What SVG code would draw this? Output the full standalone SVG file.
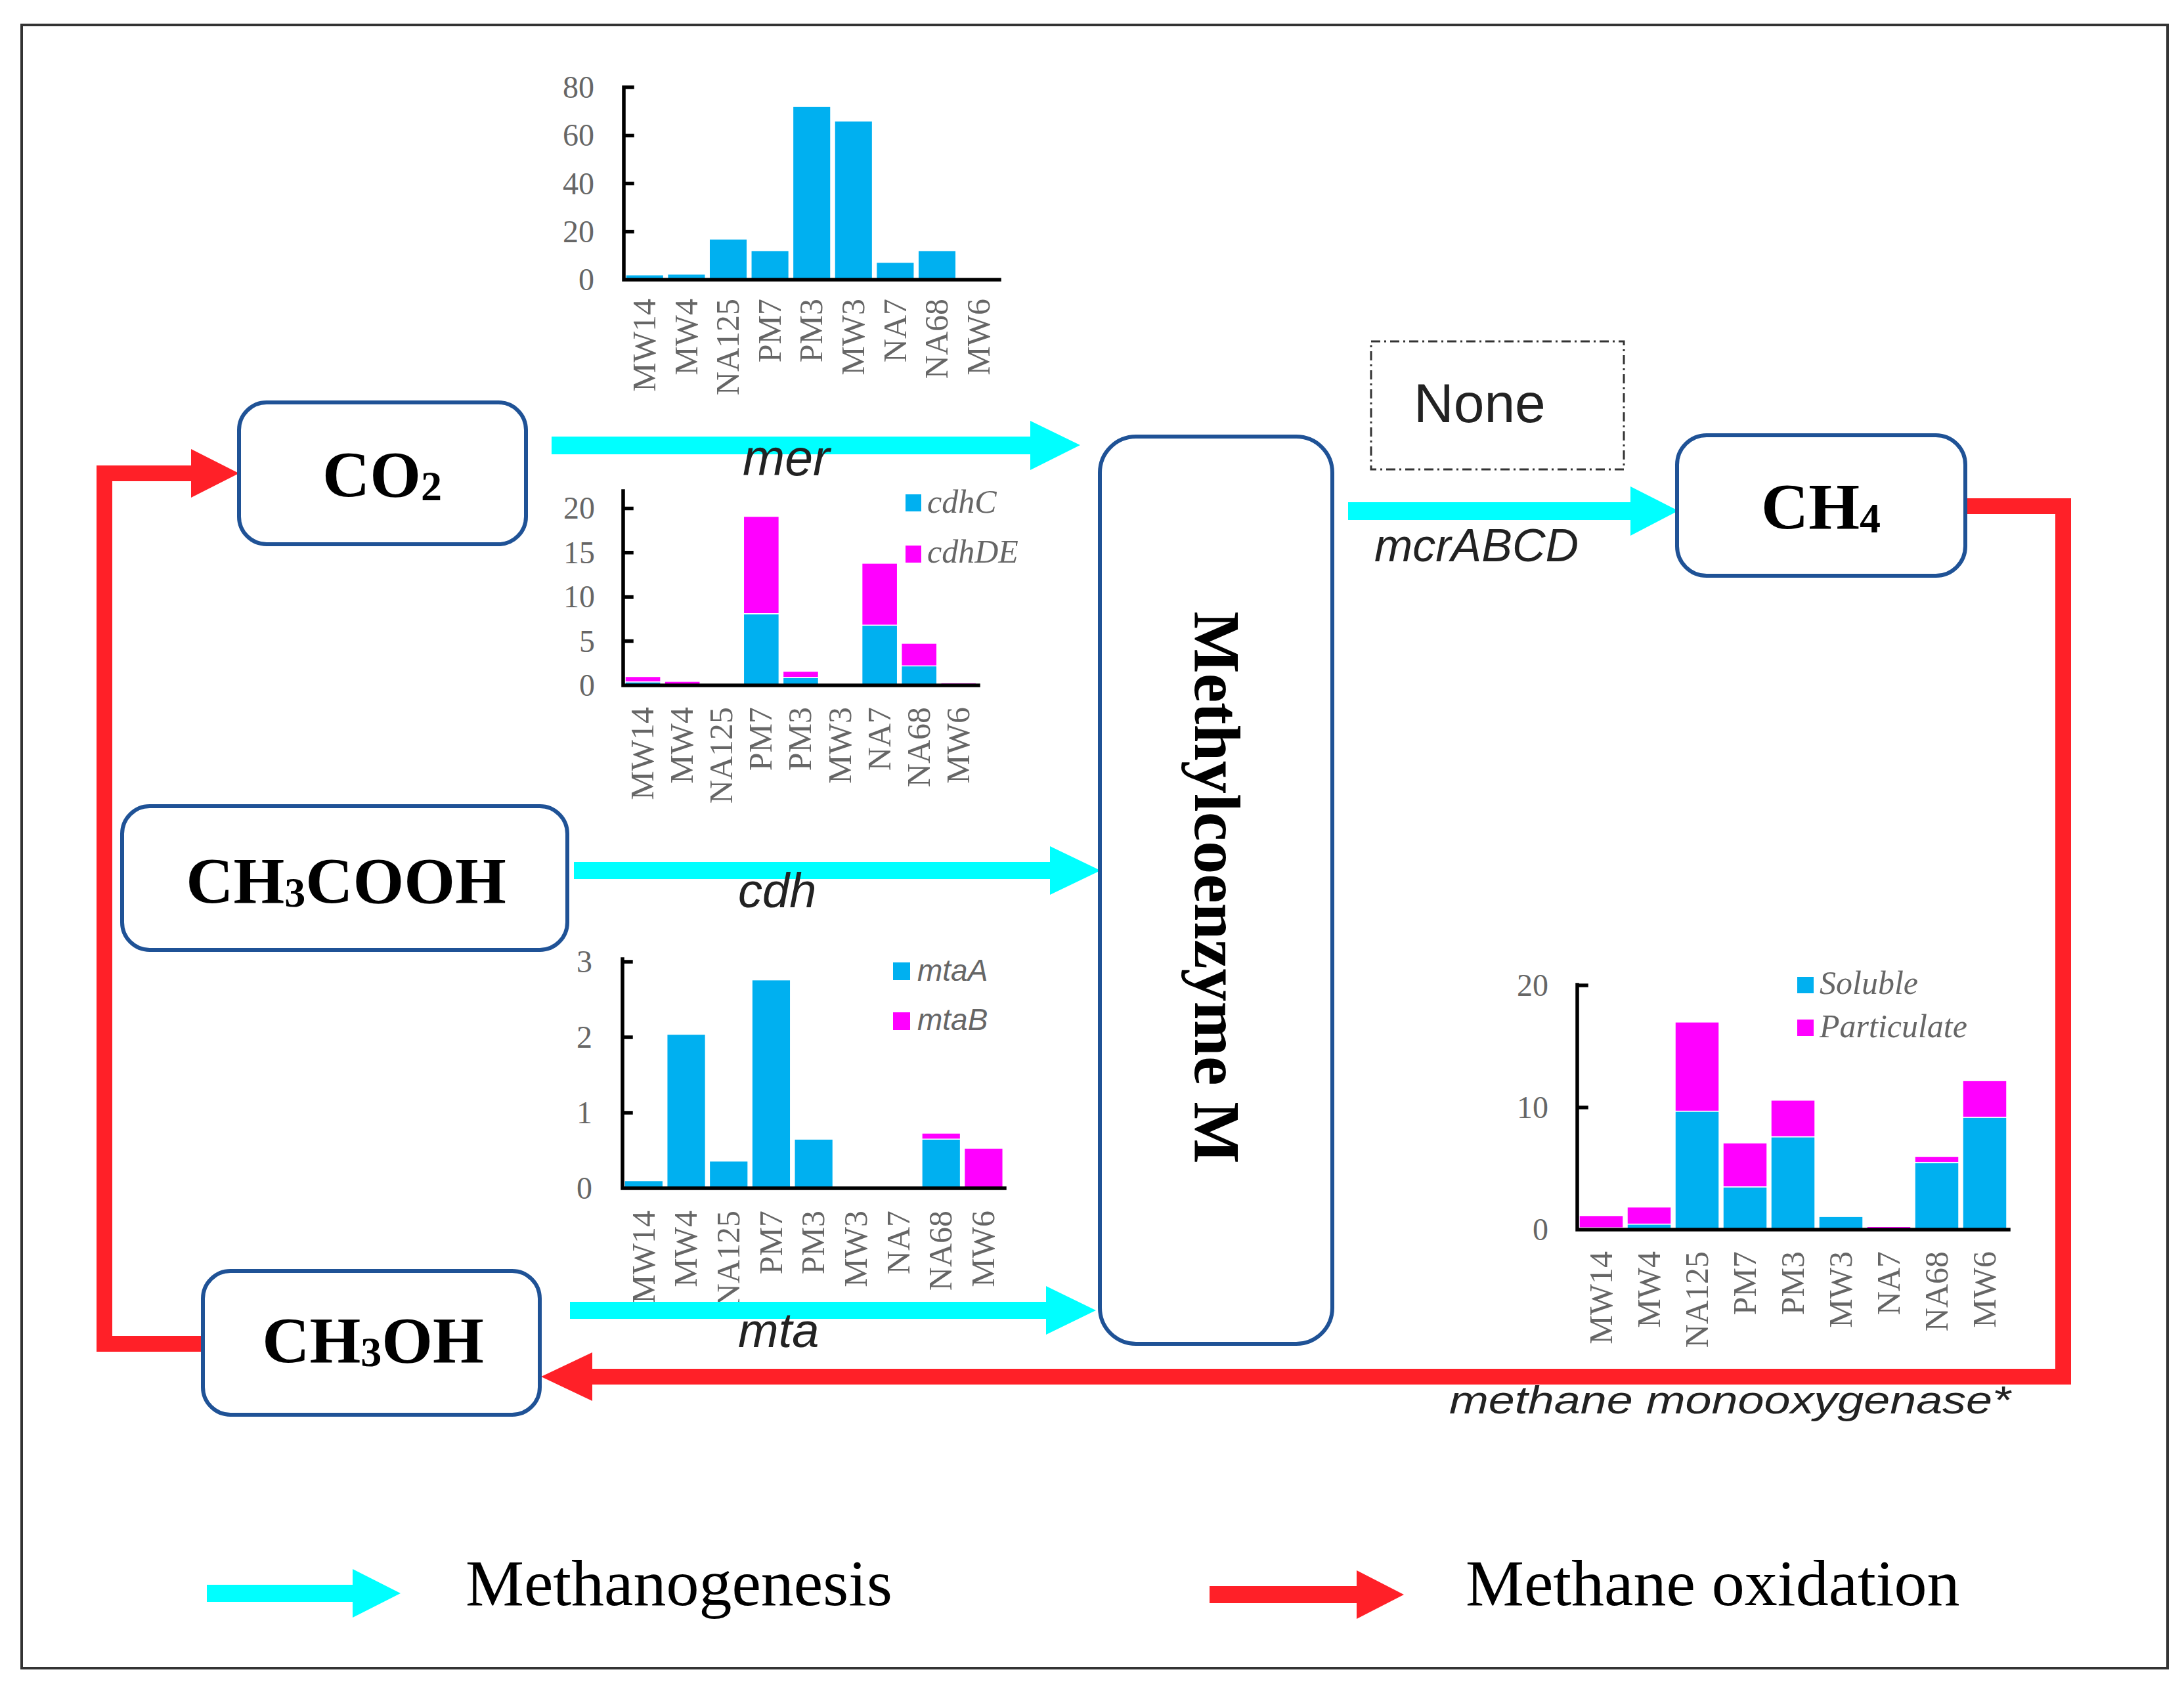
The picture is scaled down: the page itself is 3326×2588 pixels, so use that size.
<svg xmlns="http://www.w3.org/2000/svg" width="3326" height="2588" viewBox="0 0 3326 2588">
<style>
.box{fill:#fff;stroke:#1F5296;stroke-width:6}
.node{font-family:"Liberation Serif","Times New Roman",serif;font-weight:bold;font-size:100px;fill:#000}
.sub{font-size:64px}
.ax{stroke:#000;stroke-width:5.5;fill:none;stroke-linecap:square}
.tk{font-family:"Liberation Serif","Times New Roman",serif;font-size:48px;fill:#666;text-anchor:end}
.xl{font-family:"Liberation Serif","Times New Roman",serif;font-size:50px;fill:#666;text-anchor:end}
.lgs{font-family:"Liberation Serif","Times New Roman",serif;font-style:italic;font-size:50px;fill:#666}
.lga{font-family:"Liberation Sans",Arial,sans-serif;font-style:italic;font-size:46px;fill:#666}
.c{fill:#00B0F0;stroke:#fff;stroke-width:1.5}
.m{fill:#FF00FF;stroke:#fff;stroke-width:1.5}
.cy{fill:#00FFFF}
.rd{fill:#FF2028}
.rl{fill:none;stroke:#FF2028;stroke-width:24;stroke-linejoin:miter}
.lab{font-family:"Liberation Sans",Arial,sans-serif;font-style:italic;fill:#222}
.leg{font-family:"Liberation Serif","Times New Roman",serif;font-size:100px;fill:#000}
</style>
<rect x="0" y="0" width="3326" height="2588" fill="#fff"/>
<rect x="33" y="38" width="3268" height="2503" fill="none" stroke="#333" stroke-width="4"/>

<!-- Chart mer -->
<g id="chart-mer">
<rect class="c" x="953" y="418.7" width="57.6" height="7.3"/>
<rect class="c" x="1016.6" y="417.6" width="57.6" height="8.4"/>
<rect class="c" x="1080.2" y="364.1" width="57.6" height="61.9"/>
<rect class="c" x="1143.8" y="381.7" width="57.6" height="44.3"/>
<rect class="c" x="1207.4" y="162.1" width="57.6" height="263.9"/>
<rect class="c" x="1271" y="184.4" width="57.6" height="241.6"/>
<rect class="c" x="1334.6" y="399.6" width="57.6" height="26.4"/>
<rect class="c" x="1398.2" y="381.7" width="57.6" height="44.3"/>
<path class="ax" d="M950 133V426H1522M950 133H963M950 206.4H963M950 279.6H963M950 352.8H963"/>
<text class="tk" x="905" y="149">80</text>
<text class="tk" x="905" y="222">60</text>
<text class="tk" x="905" y="296">40</text>
<text class="tk" x="905" y="369">20</text>
<text class="tk" x="905" y="442">0</text>
<text class="xl" transform="translate(998,455) rotate(-90)">MW14</text>
<text class="xl" transform="translate(1062,455) rotate(-90)">MW4</text>
<text class="xl" transform="translate(1125,455) rotate(-90)">NA125</text>
<text class="xl" transform="translate(1189,455) rotate(-90)">PM7</text>
<text class="xl" transform="translate(1252,455) rotate(-90)">PM3</text>
<text class="xl" transform="translate(1316,455) rotate(-90)">MW3</text>
<text class="xl" transform="translate(1380,455) rotate(-90)">NA7</text>
<text class="xl" transform="translate(1443,455) rotate(-90)">NA68</text>
<text class="xl" transform="translate(1507,455) rotate(-90)">MW6</text>
</g>

<!-- Chart cdh -->
<g id="chart-cdh">
<rect class="c" x="952" y="1038.6" width="54.1" height="5.4"/>
<rect class="m" x="952" y="1030.5" width="54.1" height="8.1"/>
<rect class="m" x="1012.1" y="1037.9" width="54.1" height="6.1"/>
<rect class="c" x="1132.3" y="934.8" width="54.1" height="109.2"/>
<rect class="m" x="1132.3" y="786.5" width="54.1" height="148.3"/>
<rect class="c" x="1192.4" y="1031.9" width="54.1" height="12.1"/>
<rect class="m" x="1192.4" y="1022.5" width="54.1" height="9.4"/>
<rect class="c" x="1312.6" y="952.3" width="54.1" height="91.7"/>
<rect class="m" x="1312.6" y="857.9" width="54.1" height="94.4"/>
<rect class="c" x="1372.7" y="1014.3" width="54.1" height="29.7"/>
<rect class="m" x="1372.7" y="979.9" width="54.1" height="34.4"/>
<rect class="m" x="1432.8" y="1040" width="54.1" height="4"/>
<path class="ax" d="M949 748V1044H1490M949 774.4H962M949 841.8H962M949 909.2H962M949 976.6H962"/>
<text class="tk" x="906" y="790">20</text>
<text class="tk" x="906" y="858">15</text>
<text class="tk" x="906" y="925">10</text>
<text class="tk" x="906" y="993">5</text>
<text class="tk" x="906" y="1060">0</text>
<rect x="1379" y="753" width="24" height="26" fill="#00B0F0"/>
<text class="lgs" x="1412" y="781">cdhC</text>
<rect x="1379" y="831" width="24" height="26" fill="#FF00FF"/>
<text class="lgs" x="1412" y="857">cdhDE</text>
<text class="xl" transform="translate(995,1077) rotate(-90)">MW14</text>
<text class="xl" transform="translate(1055,1077) rotate(-90)">MW4</text>
<text class="xl" transform="translate(1115,1077) rotate(-90)">NA125</text>
<text class="xl" transform="translate(1175,1077) rotate(-90)">PM7</text>
<text class="xl" transform="translate(1235,1077) rotate(-90)">PM3</text>
<text class="xl" transform="translate(1296,1077) rotate(-90)">MW3</text>
<text class="xl" transform="translate(1356,1077) rotate(-90)">NA7</text>
<text class="xl" transform="translate(1416,1077) rotate(-90)">NA68</text>
<text class="xl" transform="translate(1476,1077) rotate(-90)">MW6</text>
</g>

<!-- Chart mta -->
<g id="chart-mta">
<rect class="c" x="951" y="1798.5" width="58.7" height="11.5"/>
<rect class="c" x="1015.7" y="1575.4" width="58.7" height="234.6"/>
<rect class="c" x="1080.4" y="1768.6" width="58.7" height="41.4"/>
<rect class="c" x="1145.1" y="1492.6" width="58.7" height="317.4"/>
<rect class="c" x="1209.8" y="1735.2" width="58.7" height="74.8"/>
<rect class="m" x="1339.2" y="1807.7" width="58.7" height="2.3"/>
<rect class="c" x="1403.9" y="1735.2" width="58.7" height="74.8"/>
<rect class="m" x="1403.9" y="1726" width="58.7" height="9.2"/>
<rect class="m" x="1468.6" y="1749" width="58.7" height="61"/>
<path class="ax" d="M948 1461V1810H1530M948 1465H961M948 1580H961M948 1695H961"/>
<text class="tk" x="902" y="1481">3</text>
<text class="tk" x="902" y="1596">2</text>
<text class="tk" x="902" y="1711">1</text>
<text class="tk" x="902" y="1826">0</text>
<rect x="1360" y="1466" width="26" height="27" fill="#00B0F0"/>
<text class="lga" x="1397" y="1494">mtaA</text>
<rect x="1360" y="1542" width="26" height="27" fill="#FF00FF"/>
<text class="lga" x="1397" y="1569">mtaB</text>
<text class="xl" transform="translate(997,1844) rotate(-90)">MW14</text>
<text class="xl" transform="translate(1061,1844) rotate(-90)">MW4</text>
<text class="xl" transform="translate(1126,1844) rotate(-90)">NA125</text>
<text class="xl" transform="translate(1191,1844) rotate(-90)">PM7</text>
<text class="xl" transform="translate(1255,1844) rotate(-90)">PM3</text>
<text class="xl" transform="translate(1320,1844) rotate(-90)">MW3</text>
<text class="xl" transform="translate(1385,1844) rotate(-90)">NA7</text>
<text class="xl" transform="translate(1449,1844) rotate(-90)">NA68</text>
<text class="xl" transform="translate(1514,1844) rotate(-90)">MW6</text>
</g>

<!-- Chart methane monooxygenase -->
<g id="chart-mmo">
<rect class="c" x="2405" y="1870.2" width="67" height="2.8"/>
<rect class="m" x="2405" y="1851.6" width="67" height="18.6"/>
<rect class="c" x="2478" y="1864.6" width="67" height="8.4"/>
<rect class="m" x="2478" y="1838.6" width="67" height="26"/>
<rect class="c" x="2551" y="1692.6" width="67" height="180.4"/>
<rect class="m" x="2551" y="1556.8" width="67" height="135.8"/>
<rect class="c" x="2624" y="1807.9" width="67" height="65.1"/>
<rect class="m" x="2624" y="1740.9" width="67" height="67"/>
<rect class="c" x="2697" y="1731.6" width="67" height="141.4"/>
<rect class="m" x="2697" y="1675.8" width="67" height="55.8"/>
<rect class="c" x="2770" y="1853.1" width="67" height="19.9"/>
<rect class="m" x="2843" y="1868.3" width="67" height="4.7"/>
<rect class="c" x="2916" y="1770.7" width="67" height="102.3"/>
<rect class="m" x="2916" y="1761.4" width="67" height="9.3"/>
<rect class="c" x="2989" y="1701.9" width="67" height="171.1"/>
<rect class="m" x="2989" y="1646.1" width="67" height="55.8"/>
<path class="ax" d="M2402 1500V1873H3059M2402 1501H2416M2402 1687H2416"/>
<text class="tk" x="2358" y="1517">20</text>
<text class="tk" x="2358" y="1703">10</text>
<text class="tk" x="2358" y="1889">0</text>
<rect x="2737" y="1488" width="25" height="25" fill="#00B0F0"/>
<text class="lgs" x="2771" y="1514">Soluble</text>
<rect x="2737" y="1553" width="25" height="25" fill="#FF00FF"/>
<text class="lgs" x="2771" y="1580">Particulate</text>
<text class="xl" transform="translate(2455,1906) rotate(-90)">MW14</text>
<text class="xl" transform="translate(2528,1906) rotate(-90)">MW4</text>
<text class="xl" transform="translate(2601,1906) rotate(-90)">NA125</text>
<text class="xl" transform="translate(2674,1906) rotate(-90)">PM7</text>
<text class="xl" transform="translate(2747,1906) rotate(-90)">PM3</text>
<text class="xl" transform="translate(2820,1906) rotate(-90)">MW3</text>
<text class="xl" transform="translate(2893,1906) rotate(-90)">NA7</text>
<text class="xl" transform="translate(2966,1906) rotate(-90)">NA68</text>
<text class="xl" transform="translate(3039,1906) rotate(-90)">MW6</text>
</g>

<!-- Connectors -->
<g id="connectors">
<polygon id="arrow-mer" class="cy" points="840,665 1569,665 1569,641 1645,678 1569,716 1569,692 840,692"/>
<polygon id="arrow-cdh" class="cy" points="874,1313 1599,1313 1599,1289 1676,1326 1599,1363 1599,1339 874,1339"/>
<polygon id="arrow-mta" class="cy" points="868,1983 1593,1983 1593,1959 1669,1996 1593,2033 1593,2009 868,2009"/>
<polygon id="arrow-mcr" class="cy" points="2053,765 2483,765 2483,741 2556,778 2483,816 2483,792 2053,792"/>
<polyline id="arrow-mmo-line" class="rl" points="2993,771 3142,771 3142,2097 900,2097"/>
<polygon id="arrow-mmo-head" class="rd" points="902,2060 824,2097 902,2134"/>
<polyline id="arrow-ox-line" class="rl" points="309,2047 159,2047 159,721 295,721"/>
<polygon id="arrow-ox-head" class="rd" points="291,684 364,721 291,758"/>
<text class="lab" x="1131" y="724" font-size="77">mer</text>
<text class="lab" x="1124" y="1382" font-size="74">cdh</text>
<text class="lab" x="1124" y="2052" font-size="74">mta</text>
<text class="lab" x="2093" y="855" font-size="70">mcrABCD</text>
<text class="lab" x="2207" y="2153" font-size="60" textLength="855" lengthAdjust="spacingAndGlyphs">methane monooxygenase*</text>
</g>

<!-- Nodes -->
<g id="node-co2">
<rect class="box" x="364" y="613" width="437" height="216" rx="42"/>
<text class="node" x="582" y="756" text-anchor="middle">CO<tspan class="sub" dy="6">2</tspan></text>
</g>
<g id="node-ch3cooh">
<rect class="box" x="186" y="1228" width="678" height="219" rx="42"/>
<text class="node" x="527" y="1375" text-anchor="middle">CH<tspan class="sub" dy="6">3</tspan><tspan dy="-6">COOH</tspan></text>
</g>
<g id="node-ch3oh">
<rect class="box" x="309" y="1936" width="513" height="219" rx="42"/>
<text class="node" x="568" y="2075" text-anchor="middle">CH<tspan class="sub" dy="6">3</tspan><tspan dy="-6">OH</tspan></text>
</g>
<g id="node-mcm">
<rect class="box" x="1675" y="665" width="354" height="1382" rx="55"/>
<text class="node" transform="translate(1820,1352) rotate(90)" text-anchor="middle">Methylcoenzyme M</text>
</g>
<g id="node-ch4">
<rect class="box" x="2554" y="663" width="439" height="214" rx="45"/>
<text class="node" x="2773" y="805" text-anchor="middle">CH<tspan class="sub" dy="6">4</tspan></text>
</g>
<g id="node-none">
<rect x="2088" y="520" width="385" height="195" fill="none" stroke="#333" stroke-width="3" stroke-dasharray="14 6 3 6"/>
<text x="2153" y="643" font-family="'Liberation Sans',Arial,sans-serif" font-size="84" fill="#222">None</text>
</g>

<!-- Legend -->
<g id="legend">
<polygon class="cy" points="315,2414 537,2414 537,2390 610,2427 537,2464 537,2440 315,2440"/>
<text class="leg" x="709" y="2445">Methanogenesis</text>
<polygon class="rd" points="1842,2416 2066,2416 2066,2392 2138,2429 2066,2466 2066,2442 1842,2442"/>
<text class="leg" x="2232" y="2445">Methane oxidation</text>
</g>
</svg>
